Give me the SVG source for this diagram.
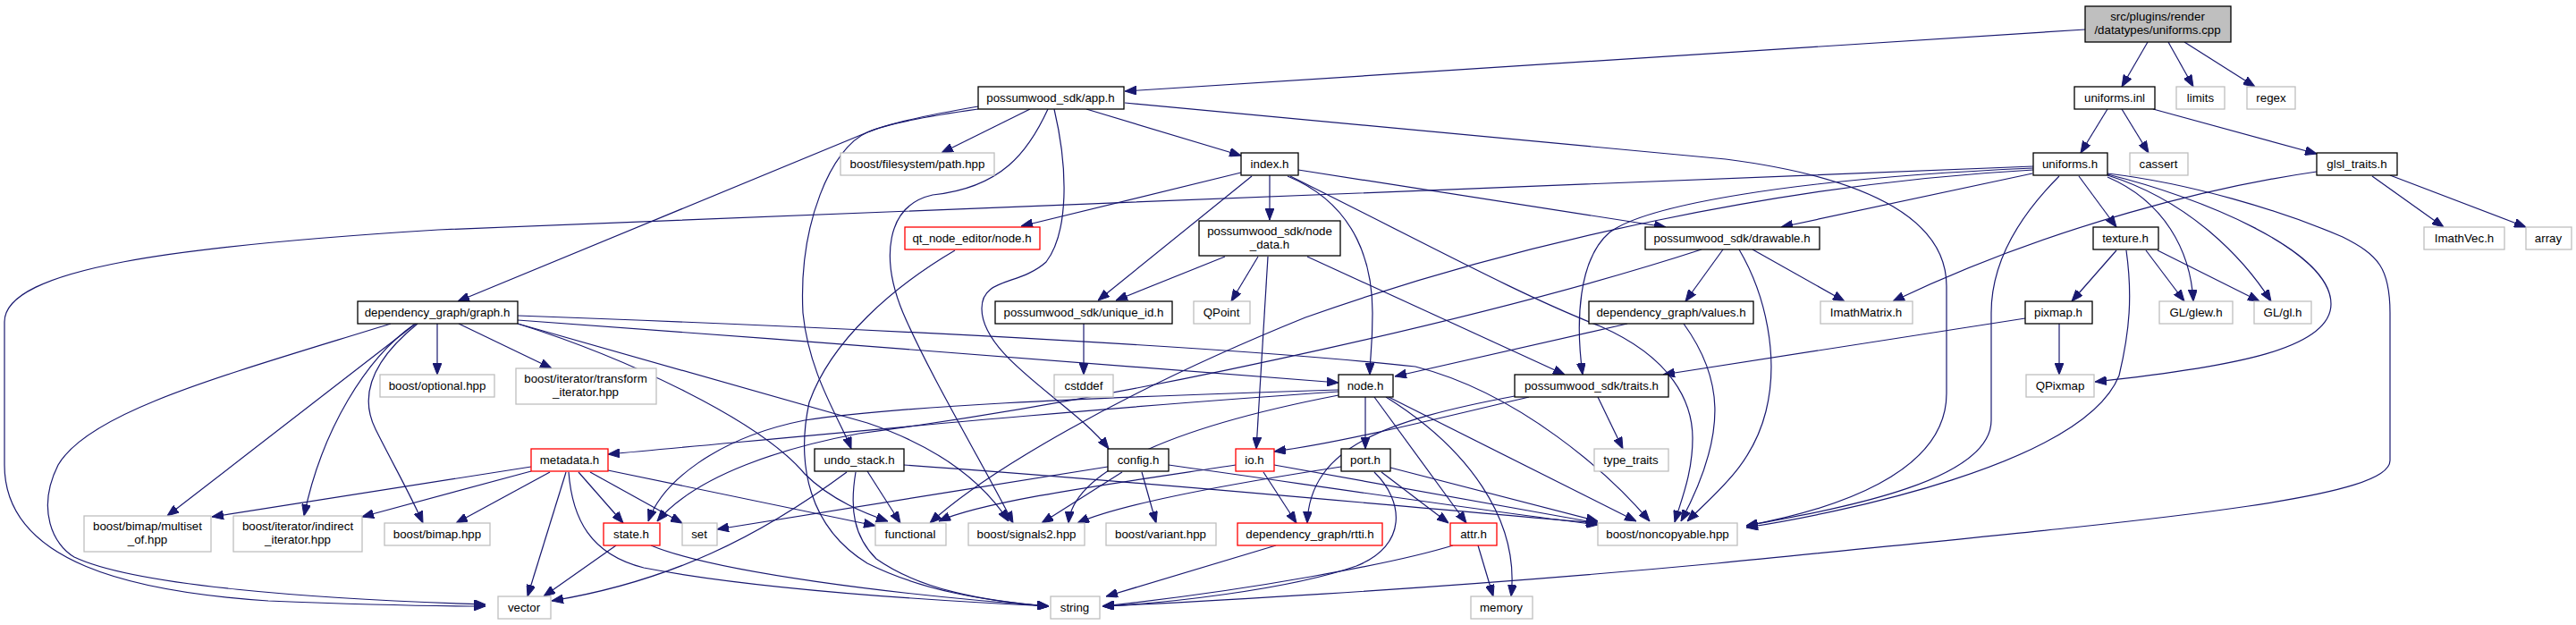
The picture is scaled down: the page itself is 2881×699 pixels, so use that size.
<svg xmlns="http://www.w3.org/2000/svg" width="2881" height="699" viewBox="0 0 2881 699">
<style>
rect{stroke-width:1.3}
.n rect{fill:#fff;stroke:#000}
.g rect{fill:#fff;stroke:#bfbfbf}
.r rect{fill:#fff;stroke:#ff0000}
.root rect{fill:#bfbfbf;stroke:#000}
text{font-family:"Liberation Sans",Arial,sans-serif;font-size:13.3px;fill:#000;text-anchor:middle}
#edges path{fill:none;stroke:#191970;stroke-width:1.2;marker-end:url(#a)}
</style>
<defs>
<marker id="a" viewBox="0 0 13 10" refX="13" refY="5" markerWidth="13" markerHeight="10" markerUnits="userSpaceOnUse" orient="auto">
<path d="M0,0 L13,5 L0,10 z" fill="#191970" stroke="#191970"/>
</marker>
</defs>
<rect width="2881" height="699" fill="#fff"/>
<g id="edges">
<path d="M2332,33 L1258,102"/>
<path d="M2402,47 L2373,97"/>
<path d="M2425,47 L2453,97"/>
<path d="M2443,47 L2522,97"/>
<path d="M2357,122 L2327,171"/>
<path d="M2373,122 L2403,171"/>
<path d="M2408,122 L2591,172"/>
<path d="M2591,192 C2480,208 2300,250 2117,337"/>
<path d="M2653,197 L2733,254"/>
<path d="M2673,196 L2825,254"/>
<path d="M2274,186 L490,257 C200,275 5,300 5,360 L5,520 C5,630 150,662 300,672 C400,676 480,678 543,678"/>
<path d="M2274,188 C2000,200 1840,230 1800,260 C1765,290 1762,360 1770,419"/>
<path d="M2274,190 C2000,205 1700,270 1460,355 C1250,440 1100,530 1040,585"/>
<path d="M2273,194 L1992,254"/>
<path d="M2325,197 L2367,254"/>
<path d="M2303,197 C2250,250 2227,300 2227,350 L2227,470 C2227,540 2050,570 1953,588"/>
<path d="M2357,198 C2420,225 2450,280 2453,337"/>
<path d="M2357,196 C2450,225 2510,290 2540,337"/>
<path d="M2357,195 C2460,220 2607,280 2607,340 C2607,390 2500,410 2343,427"/>
<path d="M2357,194 C2450,205 2550,235 2620,265 C2660,285 2673,300 2673,350 L2673,515 C2673,560 2400,582 1920,630 C1600,660 1300,675 1233,678"/>
<path d="M2367,280 L2317,337"/>
<path d="M2400,280 L2443,337"/>
<path d="M2413,280 L2527,337"/>
<path d="M2378,280 C2385,330 2382,370 2370,420 C2330,520 2050,575 1953,590"/>
<path d="M2303,362 L2303,419"/>
<path d="M2265,356 L1860,419"/>
<path d="M1927,279 L1885,337"/>
<path d="M1960,279 L2063,337"/>
<path d="M1945,279 C1975,330 1990,400 1975,460 C1960,520 1920,550 1887,583"/>
<path d="M1903,279 C1700,345 1300,440 960,485 C880,500 780,530 735,583"/>
<path d="M1820,362 L1560,421"/>
<path d="M1883,362 C1925,420 1935,480 1880,583"/>
<path d="M1152,122 L1053,171"/>
<path d="M1215,122 L1388,174"/>
<path d="M1094,119 Q1000,135 970,148 L512,337"/>
<path d="M1094,122 Q1000,135 970,148 C930,165 893,250 898,350 C905,420 940,470 952,502"/>
<path d="M1172,122 C1150,170 1120,210 1043,218 C990,230 985,290 1010,350 C1040,420 1100,520 1133,585"/>
<path d="M1179,122 C1195,190 1195,260 1170,293 C1140,320 1098,310 1098,345 C1098,400 1200,450 1240,502"/>
<path d="M1258,115 L1930,178 C2100,200 2177,250 2177,320 L2177,440 C2177,530 2050,570 1953,588"/>
<path d="M1388,193 L1142,253"/>
<path d="M1400,197 L1228,336"/>
<path d="M1420,196 L1420,246"/>
<path d="M1452,190 L1863,254"/>
<path d="M1440,197 C1520,230 1535,300 1535,350 C1535,390 1532,400 1532,419"/>
<path d="M1443,197 C1600,275 1700,330 1790,365 C1870,400 1893,450 1893,490 C1893,530 1880,560 1873,584"/>
<path d="M1370,287 L1248,336"/>
<path d="M1407,287 L1377,337"/>
<path d="M1418,287 L1405,502"/>
<path d="M1462,287 L1750,419"/>
<path d="M1212,362 L1212,419"/>
<path d="M1068,280 C1000,320 930,380 905,450 C890,520 905,590 970,630 C1030,660 1100,672 1173,678"/>
<path d="M489,362 L489,419"/>
<path d="M513,362 L617,412"/>
<path d="M465,362 L187,577"/>
<path d="M463,363 C410,400 360,480 340,577"/>
<path d="M467,362 C420,400 400,440 420,480 C440,520 460,555 473,585"/>
<path d="M437,362 C250,420 100,460 65,520 C40,570 60,610 83,623 C150,655 350,670 543,676"/>
<path d="M579,358 C900,380 1300,415 1497,428"/>
<path d="M579,353 C1000,368 1400,390 1583,410 C1700,440 1800,530 1845,583"/>
<path d="M579,362 C700,400 850,470 900,530 C930,560 970,575 993,583"/>
<path d="M579,362 L970,473 C1050,500 1100,540 1128,583"/>
<path d="M1527,444 L1527,502"/>
<path d="M1537,444 L1640,585"/>
<path d="M1550,444 C1640,500 1700,580 1690,667"/>
<path d="M1553,444 L1830,583"/>
<path d="M1497,438 C1200,458 900,488 680,508"/>
<path d="M1497,436 C1200,445 1000,455 900,470 C800,490 740,540 725,583"/>
<path d="M1497,442 C1300,480 1200,530 1195,585"/>
<path d="M594,522 L237,578"/>
<path d="M594,527 L405,578"/>
<path d="M615,528 L510,585"/>
<path d="M633,528 L590,667"/>
<path d="M647,528 L697,585"/>
<path d="M660,528 L763,585"/>
<path d="M636,528 C640,580 660,620 720,635 C850,660 1050,672 1173,678"/>
<path d="M680,526 L979,588"/>
<path d="M689,610 L608,667"/>
<path d="M728,610 C800,640 1000,665 1173,678"/>
<path d="M947,528 C850,600 750,650 617,672"/>
<path d="M970,527 L1007,585"/>
<path d="M957,528 C950,570 955,600 980,625 C1030,660 1100,672 1173,678"/>
<path d="M1011,520 C1300,540 1600,570 1787,585"/>
<path d="M1239,522 C1100,545 900,575 802,592"/>
<path d="M1255,528 L1165,585"/>
<path d="M1277,528 L1293,585"/>
<path d="M1307,520 C1450,540 1650,570 1787,587"/>
<path d="M1413,528 L1450,585"/>
<path d="M1425,520 L1787,585"/>
<path d="M1382,520 C1250,540 1100,560 1050,583"/>
<path d="M1545,528 L1620,585"/>
<path d="M1537,528 C1570,560 1575,610 1517,633 C1440,660 1300,675 1233,678"/>
<path d="M1555,523 L1787,583"/>
<path d="M1500,522 C1350,545 1250,565 1205,585"/>
<path d="M1653,610 L1670,667"/>
<path d="M1625,610 C1560,630 1400,660 1233,678"/>
<path d="M1427,610 L1237,667"/>
<path d="M1787,444 L1815,502"/>
<path d="M1694,443 C1550,470 1465,500 1462,585"/>
<path d="M1710,444 C1600,470 1500,495 1425,505"/>
</g>
<g id="n_cpp" class="root"><rect x="2332" y="7" width="163" height="40"/><text x="2413" y="23">src/plugins/render</text><text x="2413" y="38">/datatypes/uniforms.cpp</text></g>
<g id="n_app" class="n"><rect x="1094" y="97" width="163" height="25"/><text x="1175" y="114">possumwood_sdk/app.h</text></g>
<g id="n_inl" class="n"><rect x="2320" y="97" width="90" height="25"/><text x="2365" y="114">uniforms.inl</text></g>
<g id="n_limits" class="g"><rect x="2434" y="97" width="54" height="25"/><text x="2461" y="114">limits</text></g>
<g id="n_regex" class="g"><rect x="2513" y="97" width="54" height="25"/><text x="2540" y="114">regex</text></g>
<g id="n_path" class="g"><rect x="940" y="171" width="172" height="25"/><text x="1026" y="188">boost/filesystem/path.hpp</text></g>
<g id="n_index" class="n"><rect x="1388" y="171" width="64" height="25"/><text x="1420" y="188">index.h</text></g>
<g id="n_uniforms" class="n"><rect x="2274" y="171" width="83" height="25"/><text x="2315" y="188">uniforms.h</text></g>
<g id="n_cassert" class="g"><rect x="2382" y="171" width="65" height="25"/><text x="2414" y="188">cassert</text></g>
<g id="n_glsl" class="n"><rect x="2591" y="171" width="90" height="25"/><text x="2636" y="188">glsl_traits.h</text></g>
<g id="n_qtnode" class="r"><rect x="1012" y="254" width="151" height="25"/><text x="1087" y="271">qt_node_editor/node.h</text></g>
<g id="n_nodedata" class="n"><rect x="1341" y="247" width="158" height="39"/><text x="1420" y="263">possumwood_sdk/node</text><text x="1420" y="278">_data.h</text></g>
<g id="n_drawable" class="n"><rect x="1840" y="254" width="195" height="25"/><text x="1937" y="271">possumwood_sdk/drawable.h</text></g>
<g id="n_texture" class="n"><rect x="2341" y="254" width="73" height="25"/><text x="2377" y="271">texture.h</text></g>
<g id="n_imathvec" class="g"><rect x="2711" y="254" width="90" height="25"/><text x="2756" y="271">ImathVec.h</text></g>
<g id="n_array" class="g"><rect x="2825" y="254" width="51" height="25"/><text x="2850" y="271">array</text></g>
<g id="n_graph" class="n"><rect x="400" y="337" width="179" height="25"/><text x="489" y="354">dependency_graph/graph.h</text></g>
<g id="n_uniqueid" class="n"><rect x="1113" y="337" width="198" height="25"/><text x="1212" y="354">possumwood_sdk/unique_id.h</text></g>
<g id="n_qpoint" class="g"><rect x="1335" y="337" width="63" height="25"/><text x="1366" y="354">QPoint</text></g>
<g id="n_values" class="n"><rect x="1777" y="337" width="184" height="25"/><text x="1869" y="354">dependency_graph/values.h</text></g>
<g id="n_imathmatrix" class="g"><rect x="2036" y="337" width="103" height="25"/><text x="2087" y="354">ImathMatrix.h</text></g>
<g id="n_pixmap" class="n"><rect x="2265" y="337" width="75" height="25"/><text x="2302" y="354">pixmap.h</text></g>
<g id="n_glew" class="g"><rect x="2415" y="337" width="82" height="25"/><text x="2456" y="354">GL/glew.h</text></g>
<g id="n_gl" class="g"><rect x="2521" y="337" width="64" height="25"/><text x="2553" y="354">GL/gl.h</text></g>
<g id="n_optional" class="g"><rect x="425" y="419" width="128" height="25"/><text x="489" y="436">boost/optional.hpp</text></g>
<g id="n_transform" class="g"><rect x="577" y="412" width="157" height="40"/><text x="655" y="428">boost/iterator/transform</text><text x="655" y="443">_iterator.hpp</text></g>
<g id="n_cstddef" class="g"><rect x="1179" y="419" width="66" height="25"/><text x="1212" y="436">cstddef</text></g>
<g id="n_node" class="n"><rect x="1497" y="419" width="61" height="25"/><text x="1527" y="436">node.h</text></g>
<g id="n_traits" class="n"><rect x="1694" y="419" width="172" height="25"/><text x="1780" y="436">possumwood_sdk/traits.h</text></g>
<g id="n_qpixmap" class="g"><rect x="2266" y="419" width="76" height="25"/><text x="2304" y="436">QPixmap</text></g>
<g id="n_metadata" class="r"><rect x="594" y="502" width="86" height="25"/><text x="637" y="519">metadata.h</text></g>
<g id="n_undo" class="n"><rect x="911" y="502" width="100" height="25"/><text x="961" y="519">undo_stack.h</text></g>
<g id="n_config" class="n"><rect x="1239" y="502" width="68" height="25"/><text x="1273" y="519">config.h</text></g>
<g id="n_io" class="r"><rect x="1382" y="502" width="43" height="25"/><text x="1403" y="519">io.h</text></g>
<g id="n_port" class="n"><rect x="1500" y="502" width="55" height="25"/><text x="1527" y="519">port.h</text></g>
<g id="n_typetraits" class="g"><rect x="1783" y="502" width="83" height="25"/><text x="1824" y="519">type_traits</text></g>
<g id="n_multiset" class="g"><rect x="94" y="577" width="142" height="40"/><text x="165" y="593">boost/bimap/multiset</text><text x="165" y="608">_of.hpp</text></g>
<g id="n_indirect" class="g"><rect x="261" y="577" width="144" height="40"/><text x="333" y="593">boost/iterator/indirect</text><text x="333" y="608">_iterator.hpp</text></g>
<g id="n_bimap" class="g"><rect x="430" y="585" width="118" height="25"/><text x="489" y="602">boost/bimap.hpp</text></g>
<g id="n_state" class="r"><rect x="675" y="585" width="63" height="25"/><text x="706" y="602">state.h</text></g>
<g id="n_set" class="g"><rect x="763" y="585" width="39" height="25"/><text x="782" y="602">set</text></g>
<g id="n_functional" class="g"><rect x="979" y="585" width="79" height="25"/><text x="1018" y="602">functional</text></g>
<g id="n_signals2" class="g"><rect x="1083" y="585" width="130" height="25"/><text x="1148" y="602">boost/signals2.hpp</text></g>
<g id="n_variant" class="g"><rect x="1237" y="585" width="123" height="25"/><text x="1298" y="602">boost/variant.hpp</text></g>
<g id="n_rtti" class="r"><rect x="1384" y="585" width="162" height="25"/><text x="1465" y="602">dependency_graph/rtti.h</text></g>
<g id="n_attr" class="r"><rect x="1622" y="585" width="52" height="25"/><text x="1648" y="602">attr.h</text></g>
<g id="n_noncopyable" class="g"><rect x="1787" y="585" width="156" height="25"/><text x="1865" y="602">boost/noncopyable.hpp</text></g>
<g id="n_vector" class="g"><rect x="557" y="667" width="59" height="25"/><text x="586" y="684">vector</text></g>
<g id="n_string" class="g"><rect x="1175" y="667" width="55" height="25"/><text x="1202" y="684">string</text></g>
<g id="n_memory" class="g"><rect x="1645" y="667" width="69" height="25"/><text x="1679" y="684">memory</text></g>
</svg>
